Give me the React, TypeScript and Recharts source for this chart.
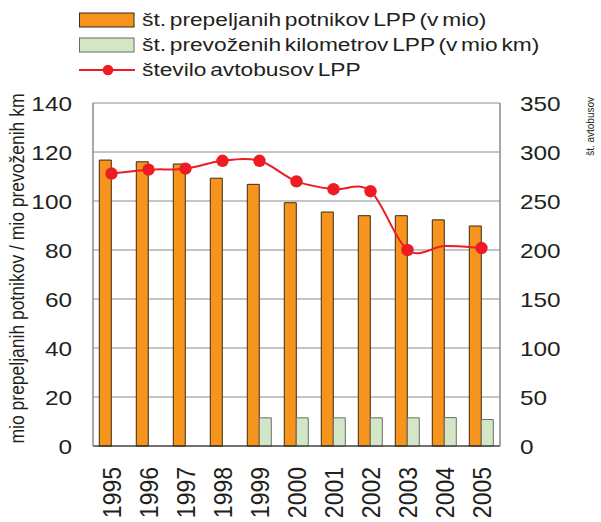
import React from 'react';
import { ComposedChart, Bar, Line, XAxis, YAxis, CartesianGrid, Legend } from 'recharts';

const years = ['1995', '1996', '1997', '1998', '1999', '2000', '2001', '2002', '2003', '2004', '2005'];
const passengers = [116.7, 116.0, 115.1, 109.3, 106.8, 99.3, 95.5, 94.0, 94.0, 92.3, 89.8];
const kilometres: (number | null)[] = [null, null, null, null, 11.5, 11.5, 11.5, 11.5, 11.5, 11.6, 10.8];
const buses = [278, 282, 283, 291, 291, 270, 262, 260, 200, 204, 202];
const hiddenMarkers = ['2004'];

const leftTicks = [0, 20, 40, 60, 80, 100, 120, 140];
const rightTicks = [0, 50, 100, 150, 200, 250, 300, 350];

const seriesNames = {
  passengers: 'št. prepeljanih potnikov LPP (v mio)',
  kilometres: 'št. prevoženih kilometrov LPP (v mio km)',
  buses: 'število avtobusov LPP',
};
const leftTitle = 'mio prepeljanih potnikov / mio prevoženih km';
const rightTitle = 'št. avtobusov';

const data = years.map((year, i) => ({
  year,
  passengers: passengers[i],
  kilometres: kilometres[i],
  buses: buses[i],
}));

const FONT = '"Liberation Sans", Arial, Helvetica, sans-serif';
const TEXT = '#231f20';
const ORANGE = '#f7941d';
const GREEN = '#d3e7c7';
const RED = '#ed1c24';
const STRETCH = 1.16;

// Catmull-Rom (Excel-like smoothed line)
function catmullRom(context: any) {
  let pts: [number, number][] = [];
  return {
    areaStart() {},
    areaEnd() {},
    lineStart() {
      pts = [];
    },
    lineEnd() {
      const n = pts.length;
      if (!n) return;
      context.moveTo(pts[0][0], pts[0][1]);
      for (let i = 0; i < n - 1; i++) {
        const p0 = pts[Math.max(0, i - 1)];
        const p1 = pts[i];
        const p2 = pts[i + 1];
        const p3 = pts[Math.min(n - 1, i + 2)];
        context.bezierCurveTo(
          p1[0] + (p2[0] - p0[0]) / 6,
          p1[1] + (p2[1] - p0[1]) / 6,
          p2[0] - (p3[0] - p1[0]) / 6,
          p2[1] - (p3[1] - p1[1]) / 6,
          p2[0],
          p2[1]
        );
      }
    },
    point(x: number, y: number) {
      pts.push([+x, +y]);
    },
  };
}

const LeftTick = (props: any) => {
  const { x, y, payload } = props;
  return (
    <g transform={`translate(${x},${y}) scale(${STRETCH},1)`}>
      <text x={0} y={0} dy="0.36em" textAnchor="end" fontSize={21} fontFamily={FONT} fill={TEXT}>
        {payload.value}
      </text>
    </g>
  );
};

const RightTick = (props: any) => {
  const { x, y, payload } = props;
  return (
    <g transform={`translate(${x},${y}) scale(${STRETCH},1)`}>
      <text x={0} y={0} dy="0.36em" textAnchor="start" fontSize={21} fontFamily={FONT} fill={TEXT}>
        {payload.value}
      </text>
    </g>
  );
};

const YearTick = (props: any) => {
  const { x, y, payload } = props;
  return (
    <g transform={`translate(${x},${y + 21}) rotate(-90) scale(1,${STRETCH})`}>
      <text x={0} y={0} dy="0.36em" textAnchor="end" fontSize={23} fontFamily={FONT} fill={TEXT}>
        {payload.value}
      </text>
    </g>
  );
};

const LeftTitle = (props: any) => {
  const vb = props.viewBox || {};
  const cx = vb.x + 17;
  const cy = vb.y + vb.height / 2 - 6;
  return (
    <g transform={`translate(${cx},${cy}) rotate(-90) scale(1,${STRETCH})`}>
      <text x={0} y={0} dy="0.36em" textAnchor="middle" fontSize={17.5} fontFamily={FONT} fill={TEXT}>
        {leftTitle}
      </text>
    </g>
  );
};

const RightTitle = (props: any) => {
  const vb = props.viewBox || {};
  const cx = vb.x + 90;
  const cy = vb.y - 6;
  return (
    <g transform={`translate(${cx},${cy}) rotate(-90) scale(1,${STRETCH})`}>
      <text x={0} y={0} dy="0.36em" textAnchor="end" fontSize={10} fontFamily={FONT} fill={TEXT}>
        {rightTitle}
      </text>
    </g>
  );
};

const BusDot = (props: any) => {
  const { cx, cy, payload, index } = props;
  if (cx == null || cy == null || hiddenMarkers.includes(payload?.year)) {
    return <g key={`d-${index}`} />;
  }
  return <circle key={`d-${index}`} cx={cx} cy={cy} r={6.2} fill={RED} stroke="none" />;
};

const LegendContent = (props: any) => {
  const items = props.payload || [];
  return (
    <div style={{ position: 'absolute', left: 79, top: 7, fontFamily: FONT }}>
      {items.map((item: any, i: number) => {
        const isLine = item.type === 'line';
        return (
          <div key={i} style={{ display: 'flex', alignItems: 'center', height: 25 }}>
            <svg width={56} height={18} style={{ display: 'block' }}>
              {isLine ? (
                <g>
                  <line x1={0} y1={9} x2={56} y2={9} stroke={RED} strokeWidth={2} />
                  <circle cx={29} cy={9} r={5.3} fill={RED} />
                </g>
              ) : (
                <rect
                  x={0.5}
                  y={2}
                  width={54.5}
                  height={14}
                  fill={item.color}
                  stroke={i === 0 ? '#3b2a14' : '#6b6b6b'}
                  strokeWidth={1}
                />
              )}
            </svg>
            <span
              style={{
                marginLeft: 7,
                fontSize: 17.5,
                color: TEXT,
                whiteSpace: 'nowrap',
                display: 'inline-block',
                transform: 'scaleX(1.3)',
                transformOrigin: 'left center',
                lineHeight: '18px',
                wordSpacing: '-2px',
              }}
            >
              {item.value}
            </span>
          </div>
        );
      })}
    </div>
  );
};

export default function App() {
  return (
    <div style={{ position: 'absolute', left: 0, top: 0, width: 601, height: 522, background: '#fff' }}>
      <ComposedChart
        width={601}
        height={522}
        data={data}
        margin={{ top: 103, right: 0, bottom: 0, left: 0 }}
        barCategoryGap="17%"
        barGap={0}
      >
        <CartesianGrid vertical={false} stroke="#8a8a8a" strokeWidth={1} yAxisId="left" />
        <XAxis
          dataKey="year"
          height={76}
          interval={0}
          tickLine={false}
          tickSize={0}
          tickMargin={0}
          axisLine={{ stroke: '#231f20', strokeWidth: 1.2 }}
          tick={<YearTick />}
        />
        <YAxis
          yAxisId="left"
          width={93}
          domain={[0, 140]}
          ticks={leftTicks}
          interval={0}
          tickLine={false}
          tickSize={0}
          tickMargin={21}
          axisLine={{ stroke: '#8a8a8a', strokeWidth: 1.5 }}
          tick={<LeftTick />}
          label={{ content: <LeftTitle /> } as any}
        />
        <YAxis
          yAxisId="right"
          orientation="right"
          width={101}
          domain={[0, 350]}
          ticks={rightTicks}
          interval={0}
          tickLine={false}
          tickSize={0}
          tickMargin={20}
          axisLine={{ stroke: '#8a8a8a', strokeWidth: 1.5 }}
          tick={<RightTick />}
          label={{ content: <RightTitle /> } as any}
        />
        <Legend
          layout="horizontal"
          verticalAlign="middle"
          align="center"
          wrapperStyle={{ position: 'absolute', left: 0, top: 0, width: 601, height: 0 }}
          content={<LegendContent />}
        />
        <Bar
          yAxisId="left"
          dataKey="passengers"
          name={seriesNames.passengers}
          fill={ORANGE}
          stroke="#3b2a14"
          strokeWidth={1}
          isAnimationActive={false}
          legendType="rect"
        />
        <Bar
          yAxisId="left"
          dataKey="kilometres"
          name={seriesNames.kilometres}
          fill={GREEN}
          stroke="#6b6b6b"
          strokeWidth={1}
          isAnimationActive={false}
          legendType="rect"
        />
        <Line
          yAxisId="right"
          dataKey="buses"
          name={seriesNames.buses}
          type={catmullRom as any}
          stroke={RED}
          strokeWidth={2}
          dot={<BusDot />}
          activeDot={false}
          isAnimationActive={false}
          legendType="line"
        />
      </ComposedChart>
    </div>
  );
}
